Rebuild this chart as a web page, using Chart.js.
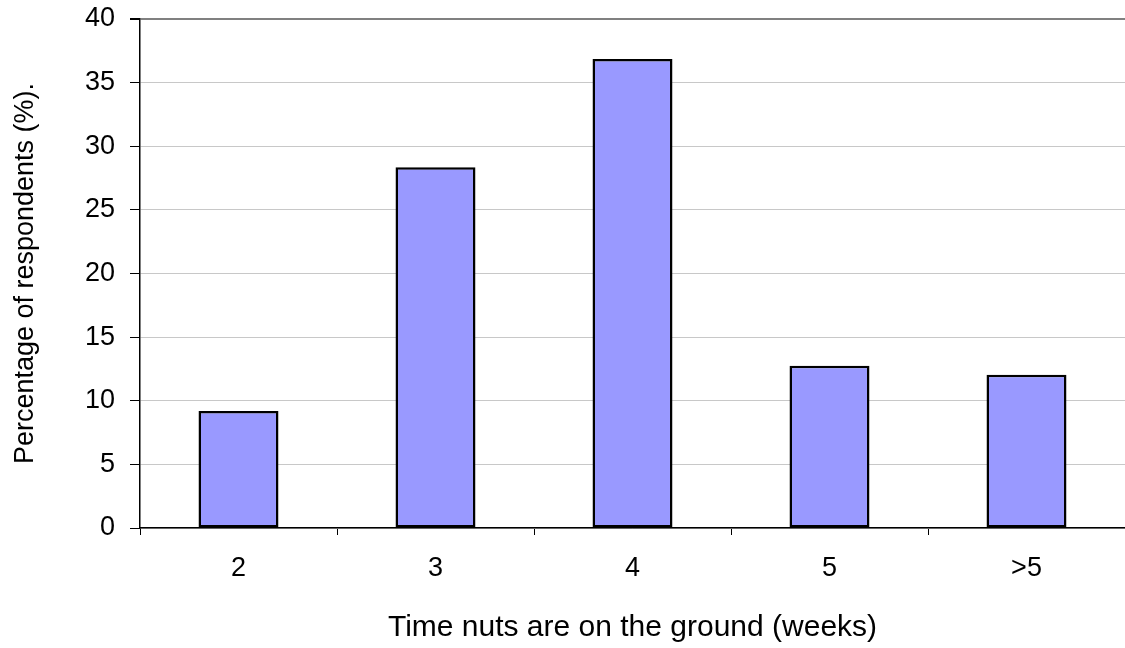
<!DOCTYPE html>
<html>
<head>
<meta charset="utf-8">
<script src="https://cdn.jsdelivr.net/npm/chart.js@4/dist/chart.umd.min.js"></script>
<style>
  html, body { margin: 0; padding: 0; background: #fff; }
  #wrap { width: 1125px; height: 648px; }
</style>
</head>
<body>
<div id="wrap"><canvas id="myChart" width="1125" height="648"></canvas></div>
<script>
const categories = ["2", "3", "4", "5", ">5"];
const respondents = [9.2, 28.35, 36.85, 12.75, 12.05];
const yTicks = [0, 5, 10, 15, 20, 25, 30, 35, 40];

const tickFont = { family: "'Liberation Sans', Arial, sans-serif", size: 27 };
const xTitleFont = { family: "'Liberation Sans', Arial, sans-serif", size: 30 };

const ctx = document.getElementById("myChart").getContext("2d");

const config = {
  type: "bar",
  data: {
    labels: categories,
    datasets: [
      {
        label: "Respondents",
        data: respondents,
        backgroundColor: "#9999ff",
        borderColor: "#000000",
        borderWidth: 2.5,
        borderSkipped: false,
        barPercentage: 0.406,
        categoryPercentage: 1.0,
      },
    ],
  },
  options: {
    responsive: false,
    animation: false,
    layout: { padding: { left: 0, right: 0, top: 19, bottom: 0 } },
    plugins: {
      legend: { display: false },
      tooltip: { enabled: false },
    },
    scales: {
      x: {
        offset: true,
        grid: {
          offset: true,
          drawOnChartArea: false,
          tickColor: "#000",
          tickLength: 7,
        },
        border: { color: "#000", width: 1.5 },
        ticks: { color: "#000", font: tickFont, padding: 17 },
        title: {
          display: true,
          text: "Time nuts are on the ground (weeks)",
          color: "#000",
          font: xTitleFont,
          padding: { bottom: 2, top: 0 },
        },
        afterFit: (scale) => {
          scale.height = 120;
          scale.paddingLeft = 0;
          scale.paddingRight = 0;
        },
      },
      y: {
        min: 0,
        max: 40,
        afterBuildTicks: (scale) => {
          scale.ticks = yTicks.map((v) => ({ value: v }));
        },
        grid: {
          color: (c) => (c.tick && c.tick.value === 40 ? "#808080" : "#c8c8c8"),
          lineWidth: (c) => (c.tick && c.tick.value === 40 ? 2 : 1),
          tickColor: "#000",
          tickLength: 10,
        },
        border: { color: "#000", width: 1.5 },
        ticks: { color: "#000", font: tickFont, padding: 15 },
        title: {
          display: true,
          text: "Percentage of respondents (%).",
          color: "#000",
          font: tickFont,
          padding: { top: 9, bottom: 0 },
        },
        afterFit: (scale) => {
          scale.width = 140;
          scale.paddingTop = 0;
          scale.paddingBottom = 0;
        },
      },
    },
  },
};

const chart = new Chart(ctx, config);
</script>
</body>
</html>
